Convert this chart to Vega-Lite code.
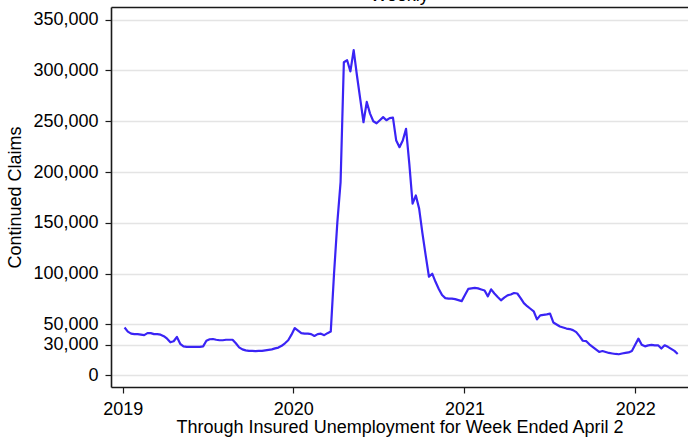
{
  "$schema": "https://vega.github.io/schema/vega-lite/v6.json",
  "autosize": {"type": "none"},
  "width": 577,
  "height": 380,
  "padding": {"left": 111, "top": 7, "right": 0, "bottom": 51},
  "background": "white",
  "title": {"text": "Weekly", "fontSize": 18, "fontWeight": "normal", "font": "Liberation Sans", "color": "#000", "anchor": "middle", "offset": 2},
  "config": {
    "view": {"stroke": null},
    "axis": {"labelFont": "Liberation Sans", "titleFont": "Liberation Sans", "labelFontSize": 18, "titleFontSize": 18, "labelColor": "#000", "titleColor": "#000", "titleFontWeight": "normal", "domainColor": "#1a1a1a", "domainWidth": 1.6, "tickColor": "#1a1a1a", "tickWidth": 1.2, "tickSize": 6}
  },
  "data": {"values": [
    {"d":"2019-01-05","v":47000},{"d":"2019-01-12","v":43000},{"d":"2019-01-19","v":41000},{"d":"2019-01-26","v":40500},
    {"d":"2019-02-02","v":40500},{"d":"2019-02-09","v":40000},{"d":"2019-02-16","v":39500},{"d":"2019-02-23","v":41500},
    {"d":"2019-03-02","v":41500},{"d":"2019-03-09","v":40500},{"d":"2019-03-16","v":40500},{"d":"2019-03-23","v":40000},
    {"d":"2019-03-30","v":38500},{"d":"2019-04-06","v":36000},{"d":"2019-04-13","v":32500},{"d":"2019-04-20","v":33500},
    {"d":"2019-04-27","v":37700},{"d":"2019-05-04","v":31000},{"d":"2019-05-11","v":28500},{"d":"2019-05-18","v":28000},
    {"d":"2019-05-25","v":28000},{"d":"2019-06-01","v":28000},{"d":"2019-06-08","v":28000},{"d":"2019-06-15","v":28000},
    {"d":"2019-06-22","v":28500},{"d":"2019-06-29","v":34000},{"d":"2019-07-06","v":35500},{"d":"2019-07-13","v":35700},
    {"d":"2019-07-20","v":35000},{"d":"2019-07-27","v":34500},{"d":"2019-08-03","v":34500},{"d":"2019-08-10","v":35000},
    {"d":"2019-08-17","v":35000},{"d":"2019-08-24","v":35000},{"d":"2019-08-31","v":31500},{"d":"2019-09-07","v":27500},
    {"d":"2019-09-14","v":25500},{"d":"2019-09-21","v":24500},{"d":"2019-09-28","v":24000},{"d":"2019-10-05","v":24000},
    {"d":"2019-10-12","v":23800},{"d":"2019-10-19","v":24000},{"d":"2019-10-26","v":24000},{"d":"2019-11-02","v":24500},
    {"d":"2019-11-09","v":25000},{"d":"2019-11-16","v":25500},{"d":"2019-11-23","v":26500},{"d":"2019-11-30","v":27300},
    {"d":"2019-12-07","v":29000},{"d":"2019-12-14","v":31500},{"d":"2019-12-21","v":34500},{"d":"2019-12-28","v":40000},
    {"d":"2020-01-04","v":46500},{"d":"2020-01-11","v":44000},{"d":"2020-01-18","v":41500},{"d":"2020-01-25","v":41000},
    {"d":"2020-02-01","v":41000},{"d":"2020-02-08","v":40500},{"d":"2020-02-15","v":38700},{"d":"2020-02-22","v":40500},
    {"d":"2020-02-29","v":41000},{"d":"2020-03-07","v":39500},{"d":"2020-03-14","v":41500},{"d":"2020-03-21","v":43000},
    {"d":"2020-03-28","v":100000},{"d":"2020-04-04","v":150000},{"d":"2020-04-11","v":190000},{"d":"2020-04-18","v":308000},
    {"d":"2020-04-25","v":310000},{"d":"2020-05-02","v":299000},{"d":"2020-05-09","v":320000},{"d":"2020-05-16","v":295000},
    {"d":"2020-05-23","v":272000},{"d":"2020-05-30","v":249000},{"d":"2020-06-06","v":269000},{"d":"2020-06-13","v":257500},
    {"d":"2020-06-20","v":250000},{"d":"2020-06-27","v":248000},{"d":"2020-07-04","v":251000},{"d":"2020-07-11","v":254000},
    {"d":"2020-07-18","v":251000},{"d":"2020-07-25","v":253000},{"d":"2020-08-01","v":253500},{"d":"2020-08-08","v":231000},
    {"d":"2020-08-15","v":224500},{"d":"2020-08-22","v":231000},{"d":"2020-08-29","v":242500},{"d":"2020-09-05","v":208000},
    {"d":"2020-09-12","v":169000},{"d":"2020-09-19","v":177000},{"d":"2020-09-26","v":164000},{"d":"2020-10-03","v":140000},
    {"d":"2020-10-10","v":118000},{"d":"2020-10-17","v":97000},{"d":"2020-10-24","v":100000},{"d":"2020-10-31","v":92000},
    {"d":"2020-11-07","v":85000},{"d":"2020-11-14","v":79000},{"d":"2020-11-21","v":76000},{"d":"2020-11-28","v":75500},
    {"d":"2020-12-05","v":75500},{"d":"2020-12-12","v":75000},{"d":"2020-12-19","v":74000},{"d":"2020-12-26","v":73000},
    {"d":"2021-01-02","v":79000},{"d":"2021-01-09","v":85000},{"d":"2021-01-16","v":85500},{"d":"2021-01-23","v":86000},
    {"d":"2021-01-30","v":85500},{"d":"2021-02-06","v":84500},{"d":"2021-02-13","v":83500},{"d":"2021-02-20","v":77700},
    {"d":"2021-02-27","v":84600},{"d":"2021-03-06","v":80500},{"d":"2021-03-13","v":77000},{"d":"2021-03-20","v":73800},
    {"d":"2021-03-27","v":76500},{"d":"2021-04-03","v":78700},{"d":"2021-04-10","v":79500},{"d":"2021-04-17","v":81000},
    {"d":"2021-04-24","v":80500},{"d":"2021-05-01","v":76000},{"d":"2021-05-08","v":71000},{"d":"2021-05-15","v":68000},
    {"d":"2021-05-22","v":65500},{"d":"2021-05-29","v":63000},{"d":"2021-06-05","v":55000},{"d":"2021-06-12","v":59000},
    {"d":"2021-06-19","v":59500},{"d":"2021-06-26","v":60000},{"d":"2021-07-03","v":60700},{"d":"2021-07-10","v":52000},
    {"d":"2021-07-17","v":50000},{"d":"2021-07-24","v":48000},{"d":"2021-07-31","v":47000},{"d":"2021-08-07","v":46000},
    {"d":"2021-08-14","v":45500},{"d":"2021-08-21","v":44500},{"d":"2021-08-28","v":42500},{"d":"2021-09-04","v":38500},
    {"d":"2021-09-11","v":34000},{"d":"2021-09-18","v":33700},{"d":"2021-09-25","v":30500},{"d":"2021-10-02","v":28000},
    {"d":"2021-10-09","v":25500},{"d":"2021-10-16","v":23000},{"d":"2021-10-23","v":23900},{"d":"2021-10-30","v":23000},
    {"d":"2021-11-06","v":22000},{"d":"2021-11-13","v":21500},{"d":"2021-11-20","v":21000},{"d":"2021-11-27","v":20700},
    {"d":"2021-12-04","v":21500},{"d":"2021-12-11","v":22000},{"d":"2021-12-18","v":22500},{"d":"2021-12-25","v":24000},
    {"d":"2022-01-01","v":30000},{"d":"2022-01-08","v":36100},{"d":"2022-01-15","v":30000},{"d":"2022-01-22","v":28500},
    {"d":"2022-01-29","v":29500},{"d":"2022-02-05","v":30000},{"d":"2022-02-12","v":29500},{"d":"2022-02-19","v":29500},
    {"d":"2022-02-26","v":26300},{"d":"2022-03-05","v":29500},{"d":"2022-03-12","v":28000},{"d":"2022-03-19","v":26000},
    {"d":"2022-03-26","v":24000},{"d":"2022-04-02","v":21000}
  ]},
  "encoding": {
    "y": {"field": "v", "type": "quantitative",
      "scale": {"domain": [-11500, 362400], "nice": false, "zero": false},
      "axis": {"title": "Continued Claims", "values": [0, 30000, 50000, 100000, 150000, 200000, 250000, 300000, 350000], "format": ",d", "grid": true, "gridColor": "#e4e4e4", "gridWidth": 1.3, "labelPadding": 7, "titlePadding": 8}}
  },
  "layer": [
    {
      "mark": {"type": "line", "color": "#3a24f5", "strokeWidth": 2.2, "strokeJoin": "round"},
      "encoding": {
        "x": {"field": "d", "type": "temporal",
          "scale": {"type": "utc", "domain": [{"year": 2018, "month": 12, "date": 7, "utc": true}, {"year": 2022, "month": 4, "date": 24, "utc": true}]},
          "axis": {"orient": "bottom", "title": "Through Insured Unemployment for Week Ended April 2", "values": [{"year": 2019, "month": 1, "date": 1, "utc": true}, {"year": 2020, "month": 1, "date": 1, "utc": true}, {"year": 2021, "month": 1, "date": 1, "utc": true}, {"year": 2022, "month": 1, "date": 1, "utc": true}], "format": "%Y", "grid": false, "labelPadding": 7, "titlePadding": 0}}
      }
    },
    {
      "mark": {"type": "line", "opacity": 0},
      "encoding": {
        "x": {"field": "d", "type": "temporal",
          "axis": {"orient": "top", "title": null, "labels": false, "ticks": false, "grid": false}}
      }
    }
  ],
  "resolve": {"axis": {"x": "independent"}}
}
